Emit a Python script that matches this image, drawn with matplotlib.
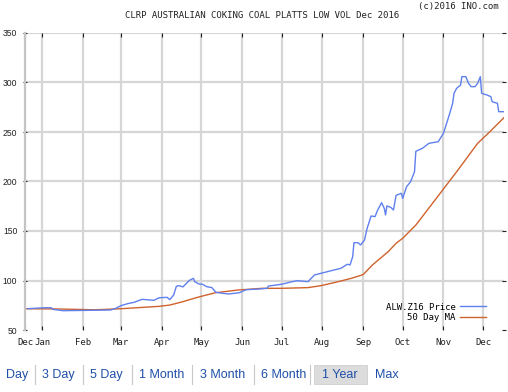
import matplotlib
matplotlib.use("Agg")
import matplotlib.pyplot as plt
import matplotlib.patches as mpatches
import pandas as pd

# price (blue)
price_dates = ["2015-12-21", "2016-01-03", "2016-01-08", "2016-01-09", "2016-01-17", "2016-02-22",
               "2016-02-26", "2016-03-01", "2016-03-06", "2016-03-11", "2016-03-17", "2016-03-23",
               "2016-03-26", "2016-03-30", "2016-04-05", "2016-04-07", "2016-04-10", "2016-04-12",
               "2016-04-14", "2016-04-17", "2016-04-19", "2016-04-22", "2016-04-25", "2016-04-26",
               "2016-04-29", "2016-05-02", "2016-05-05", "2016-05-09", "2016-05-12", "2016-05-17",
               "2016-05-22", "2016-05-30", "2016-06-04", "2016-06-14", "2016-06-20", "2016-06-21",
               "2016-07-01", "2016-07-09", "2016-07-13", "2016-07-21", "2016-07-26", "2016-07-31",
               "2016-08-08", "2016-08-15", "2016-08-20", "2016-08-22", "2016-08-24", "2016-08-25",
               "2016-08-28", "2016-08-30", "2016-09-02", "2016-09-04", "2016-09-07", "2016-09-10",
               "2016-09-12", "2016-09-15", "2016-09-17", "2016-09-18", "2016-09-19", "2016-09-22",
               "2016-09-24", "2016-09-26", "2016-09-30", "2016-10-01", "2016-10-04", "2016-10-07",
               "2016-10-10", "2016-10-11", "2016-10-16", "2016-10-21", "2016-10-28", "2016-11-01",
               "2016-11-05", "2016-11-08", "2016-11-09", "2016-11-11", "2016-11-14", "2016-11-15",
               "2016-11-18", "2016-11-20", "2016-11-22", "2016-11-25", "2016-11-27", "2016-11-29",
               "2016-11-30", "2016-12-04", "2016-12-07", "2016-12-08", "2016-12-12", "2016-12-13",
               "2016-12-17"]
price_vals = [71.5, 72.5, 72.5, 70.9, 69.5, 70.2,
              71.9, 74.6, 76.6, 78.0, 81.0, 80.3,
              80.0, 82.6, 83.0, 80.6, 85.4, 94.1,
              94.8, 93.5, 96.2, 100.2, 102.2, 98.8,
              96.5, 96.2, 93.8, 92.8, 88.1, 87.1,
              86.4, 87.7, 90.7, 91.4, 92.1, 94.4,
              96.2, 98.8, 99.8, 98.8, 105.6, 107.3,
              110.0, 112.3, 116.4, 115.7, 124.0, 138.2,
              138.2, 135.9, 140.9, 152.7, 165.2, 164.5,
              171.2, 178.6, 172.9, 166.2, 175.3, 173.9,
              171.2, 186.0, 188.1, 183.0, 194.8, 199.8,
              209.9, 230.5, 233.5, 238.6, 240.2, 248.7,
              265.5, 279.0, 289.1, 294.1, 297.5, 305.9,
              305.9, 299.2, 295.8, 295.8, 299.2, 305.9,
              289.1, 287.4, 285.7, 280.6, 279.0, 270.5,
              270.5]

# 50 day moving average (orange)
ma_dates = ["2015-12-19", "2016-01-15", "2016-02-10", "2016-03-01", "2016-03-18", "2016-03-30",
            "2016-04-07", "2016-04-17", "2016-04-27", "2016-05-05", "2016-05-12", "2016-05-29",
            "2016-06-16", "2016-07-01", "2016-07-21", "2016-07-31", "2016-08-13", "2016-08-23",
            "2016-09-01", "2016-09-08", "2016-09-20", "2016-09-26", "2016-10-01", "2016-10-11",
            "2016-10-26", "2016-11-12", "2016-11-27", "2016-12-05", "2016-12-17"]
ma_vals = [71.5, 71.2, 70.4, 71.5, 72.9, 73.9,
           75.2, 78.6, 82.6, 85.4, 87.7, 90.4,
           92.1, 92.1, 92.8, 94.8, 98.8, 102.2,
           106.0, 115.7, 129.1, 137.6, 142.6, 156.0,
           182.0, 211.6, 238.6, 248.7, 264.5]

month_labels = ["Dec", "Jan", "Feb", "Mar", "Apr", "May", "Jun",
                "Jul", "Aug", "Sep", "Oct", "Nov", "Dec"]
y_ticks = [50, 100, 150, 200, 250, 300, 350]
nav_items = ["Day", "3 Day", "5 Day", "1 Month", "3 Month", "6 Month", "1 Year", "Max"]

W, H = 508, 392
fig = plt.figure(figsize=(W / 100, H / 100), dpi=100)
ax = fig.add_axes([25 / W, 62 / H, 479 / W, 297 / H])

x0 = pd.Timestamp("2015-12-19")
x1 = pd.Timestamp("2016-12-17")
months = list(pd.date_range("2016-01-01", "2016-12-01", freq="MS"))

grid_c = "#d6d6d6"
for m in months:
    ax.axvline(m, color=grid_c, lw=1.6, zorder=0)
for v in y_ticks[1:]:
    ax.axhline(v, color=grid_c, lw=1.6, zorder=0)

ax.plot(pd.to_datetime(ma_dates), ma_vals, color="#d0622c", lw=1.0, label="50 Day MA", zorder=2)
ax.plot(pd.to_datetime(price_dates), price_vals, color="#5f80ef", lw=1.0, label="ALW.Z16 Price", zorder=3)

ax.set_xlim(x0, x1)
ax.set_ylim(50, 350)
ax.set_xticks([x0] + months)
ax.set_xticklabels(month_labels, fontfamily="DejaVu Sans Mono", fontsize=6.5)
ax.set_yticks(y_ticks)
ax.set_yticklabels([str(v) for v in y_ticks], fontfamily="Liberation Sans", fontsize=6.2, color="#333333")

for s in ["top", "right", "bottom"]:
    ax.spines[s].set_visible(False)
ax.spines["left"].set_color("#c4c4c4")
ax.spines["left"].set_linewidth(1.6)

ax.tick_params(axis="x", direction="in", length=3, width=0.8, top=True, pad=6, colors="#222222")
ax.tick_params(axis="y", direction="inout", length=3, width=0.8, right=True, pad=4, colors="#222222")

h, l = ax.get_legend_handles_labels()
leg = ax.legend(h[::-1], l[::-1], loc="lower right", bbox_to_anchor=(0.98, 0.0), frameon=False,
                markerfirst=False, handlelength=2.9, labelspacing=0.15, handletextpad=0.5,
                prop={"family": "DejaVu Sans Mono", "size": 6.5})

fig.text(262 / W, 1 - 15 / H, "CLRP AUSTRALIAN COKING COAL PLATTS LOW VOL Dec 2016",
         ha="center", va="center", fontfamily="DejaVu Sans Mono", fontsize=6.5, color="#222222")
fig.text(499 / W, 1 - 6 / H, "(c)2016 INO.com", ha="right", va="center",
         fontfamily="DejaVu Sans Mono", fontsize=6.5, color="#222222")

# range selector bar along the bottom
nav_x = [6, 42, 90, 139, 200, 261, 322, 375]
sep_x = [35, 83, 132, 192, 254, 310, 368]
nav_y = 1 - 375 / H
fig.patches.append(mpatches.Rectangle((314 / W, 1 - 384 / H), 53 / W, 19 / H,
                                      transform=fig.transFigure, facecolor="#dcdcdc",
                                      edgecolor="#cfcfcf", lw=0.6, zorder=0))
for sx in sep_x[:-1]:
    fig.add_artist(plt.Line2D([sx / W, sx / W], [1 - 384 / H, 1 - 365 / H],
                              transform=fig.transFigure, color="#c8c8c8", lw=0.8))
for nx, txt in zip(nav_x, nav_items):
    fig.text(nx / W, nav_y, txt, ha="left", va="center", fontfamily="Liberation Sans",
             fontsize=9, color="#1f4fa8")

fig.savefig("out.png", dpi=100)
